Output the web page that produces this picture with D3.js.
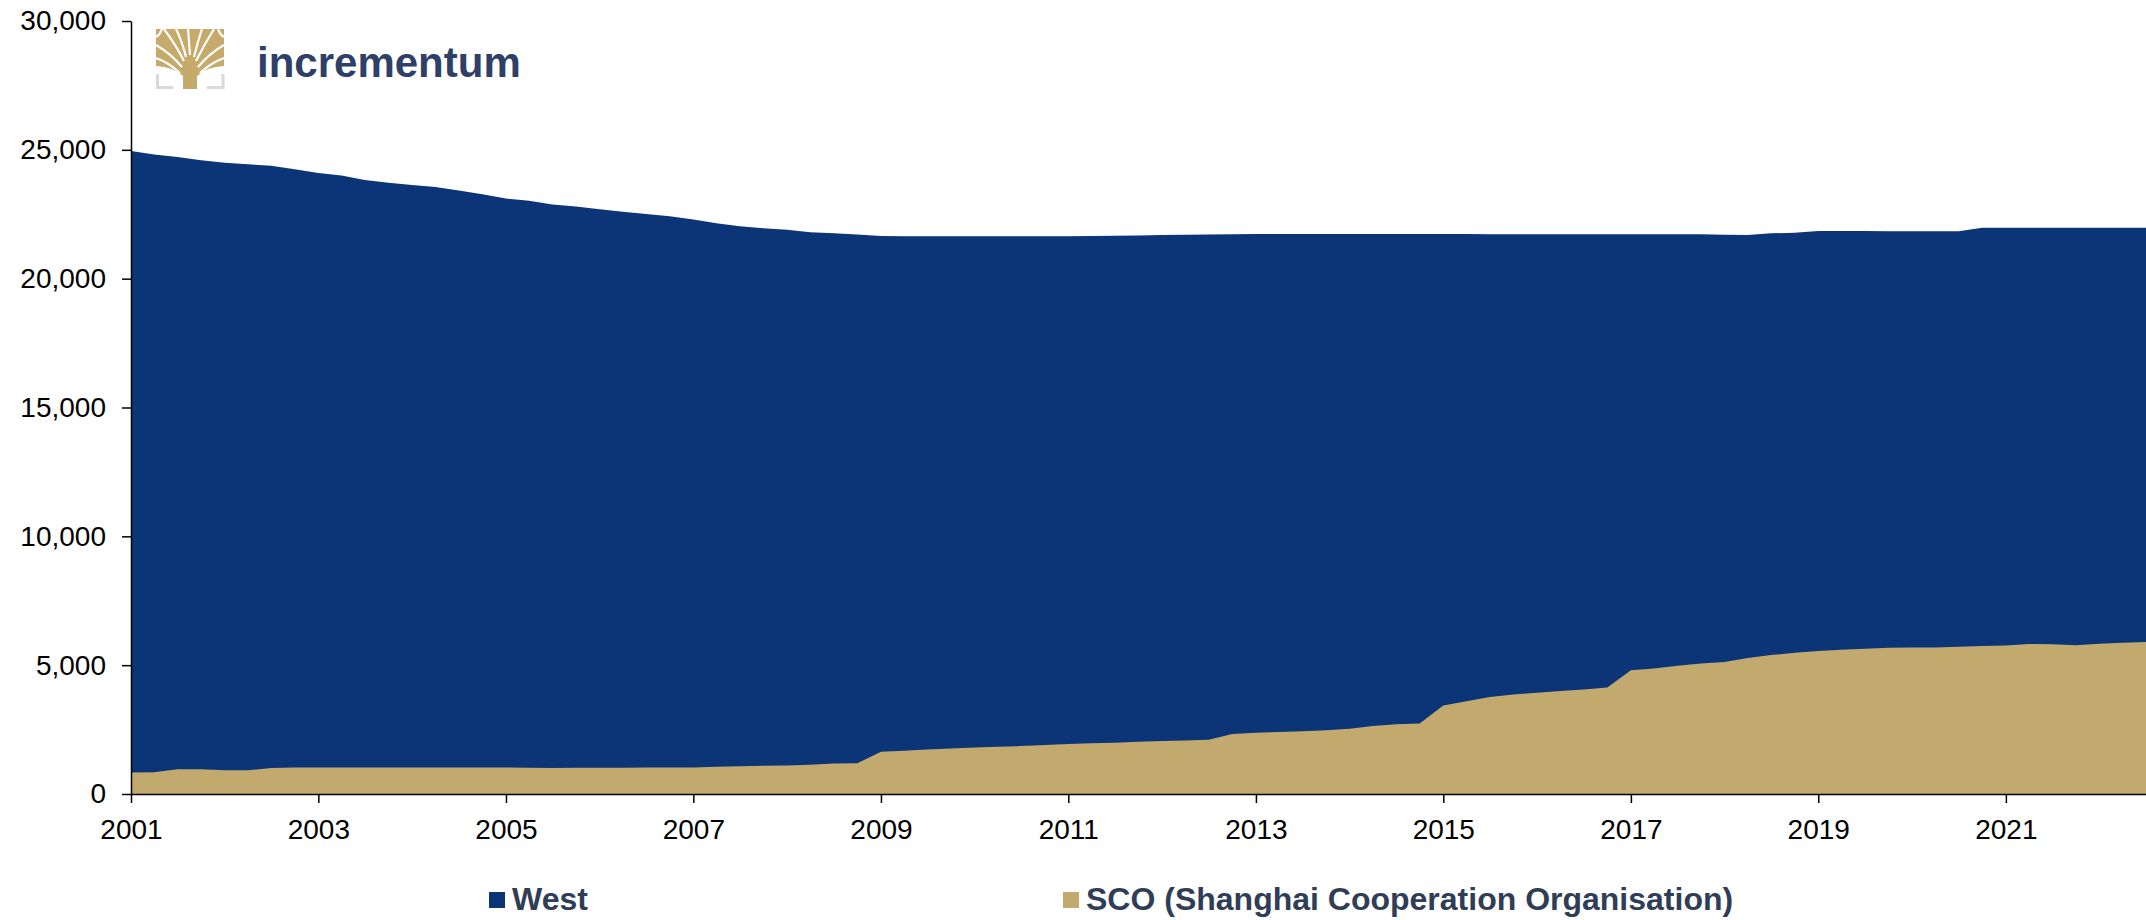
<!DOCTYPE html>
<html>
<head>
<meta charset="utf-8">
<script src="https://cdn.jsdelivr.net/npm/d3@7"></script>
<style>
  html, body { margin: 0; padding: 0; background: #fff; }
  svg { display: block; font-family: "Liberation Sans", Arial, sans-serif; }
  .axis text { font-size: 28px; fill: #000; }
  .axis path, .axis line { stroke: #000; stroke-width: 1.5; }
  .legend text { font-size: 32px; font-weight: bold; fill: #2f3e56; }
</style>
</head>
<body>
<svg id="chart" width="2146" height="920"></svg>
<script>
const quarters = [
  "2001-01","2001-04","2001-07","2001-10","2002-01","2002-04","2002-07","2002-10",
  "2003-01","2003-04","2003-07","2003-10","2004-01","2004-04","2004-07","2004-10",
  "2005-01","2005-04","2005-07","2005-10","2006-01","2006-04","2006-07","2006-10",
  "2007-01","2007-04","2007-07","2007-10","2008-01","2008-04","2008-07","2008-10",
  "2009-01","2009-04","2009-07","2009-10","2010-01","2010-04","2010-07","2010-10",
  "2011-01","2011-04","2011-07","2011-10","2012-01","2012-04","2012-07","2012-10",
  "2013-01","2013-04","2013-07","2013-10","2014-01","2014-04","2014-07","2014-10",
  "2015-01","2015-04","2015-07","2015-10","2016-01","2016-04","2016-07","2016-10",
  "2017-01","2017-04","2017-07","2017-10","2018-01","2018-04","2018-07","2018-10",
  "2019-01","2019-04","2019-07","2019-10","2020-01","2020-04","2020-07","2020-10",
  "2021-01","2021-04","2021-07","2021-10","2022-01","2022-04","2022-07"
];
const west = [
  24950,24820,24720,24600,24500,24440,24380,24250,
  24100,24000,23830,23720,23640,23560,23420,23280,
  23110,23020,22880,22800,22690,22600,22510,22420,
  22300,22150,22030,21960,21900,21800,21760,21710,
  21660,21650,21650,21650,21650,21650,21650,21650,
  21650,21660,21670,21680,21690,21700,21710,21720,
  21730,21730,21730,21730,21730,21730,21730,21730,
  21730,21730,21720,21720,21720,21720,21720,21720,
  21720,21720,21720,21720,21700,21690,21760,21780,
  21850,21850,21850,21840,21840,21840,21840,21980,
  21980,21980,21980,21980,21980,21980,21980
];
const sco = [
  830,840,960,960,920,920,1010,1030,
  1030,1030,1030,1030,1030,1030,1030,1030,
  1030,1020,1010,1020,1020,1020,1030,1030,
  1030,1060,1080,1100,1110,1140,1180,1190,
  1640,1680,1730,1770,1800,1830,1860,1900,
  1940,1970,1990,2030,2060,2080,2110,2330,
  2380,2410,2440,2470,2530,2640,2710,2740,
  3430,3600,3760,3860,3930,4000,4060,4130,
  4800,4870,4980,5060,5120,5280,5390,5480,
  5550,5600,5640,5680,5690,5690,5710,5740,
  5760,5820,5810,5770,5830,5870,5900
];
const yTicks = [0, 5000, 10000, 15000, 20000, 25000, 30000];
const xTickYears = [2001, 2003, 2005, 2007, 2009, 2011, 2013, 2015, 2017, 2019, 2021];
const seriesNames = ["West", "SCO (Shanghai Cooperation Organisation)"];
const COLORS = { West: "#0b3577", SCO: "#c2a96d" };

const parse = d3.timeParse("%Y-%m");
const rows = quarters.map((q, i) => ({ date: parse(q), west: west[i], sco: sco[i] }));

const svg = d3.select("#chart");
const M = { left: 131, right: 2146, top: 21, bottom: 794 };

const x = d3.scaleTime().domain(d3.extent(rows, (d) => d.date)).range([M.left, M.right]);
const y = d3.scaleLinear().domain([0, 30000]).range([M.bottom, M.top]);

// plain (non-stacked) areas, West behind SCO
const area = (key) => d3.area().x((d) => x(d.date)).y0(y(0)).y1((d) => y(d[key]));
svg.append("path").datum(rows).attr("fill", COLORS.West).attr("d", area("west"));
svg.append("path").datum(rows).attr("fill", COLORS.SCO).attr("d", area("sco"));

svg.append("g").attr("class", "axis").attr("transform", `translate(${M.left},0)`)
  .call(d3.axisLeft(y).tickValues(yTicks).tickFormat(d3.format(",")).tickSize(9).tickSizeOuter(0).tickPadding(16));

svg.append("g").attr("class", "axis").attr("transform", `translate(0,${M.bottom})`)
  .call(d3.axisBottom(x).tickValues(xTickYears.map((yr) => new Date(yr, 0, 1)))
    .tickFormat(d3.timeFormat("%Y")).tickSize(9).tickSizeOuter(0).tickPadding(16));

// legend
const lg = svg.append("g").attr("class", "legend");
[[489, COLORS.West, seriesNames[0]], [1063, COLORS.SCO, seriesNames[1]]].forEach(([lx, c, name]) => {
  lg.append("rect").attr("x", lx).attr("y", 892).attr("width", 16).attr("height", 16).attr("fill", c);
  lg.append("text").attr("x", lx + 23).attr("y", 910).text(name);
});

// incrementum logo
const logo = svg.append("g").attr("transform", "translate(156,29)");
logo.append("defs").append("clipPath").attr("id", "canopy")
  .append("rect").attr("width", 68).attr("height", 60);
const tree = logo.append("g").attr("clip-path", "url(#canopy)");
tree.append("path").attr("fill", "#c5aa6c")
  .attr("d", "M0,0 H68 V37 Q50,38 41,47 L41,60 H27 L27,47 Q18,38 0,37 Z");
const gaps = [
  "M24,44 Q12,33 0,29", "M26,38 Q14,24 0,16", "M28,32 Q20,16 8,0", "M30,28 Q26,12 20,0",
  "M34,26 Q33,12 32,0",
  "M38,28 Q42,12 46,0", "M40,32 Q48,16 58,0", "M42,38 Q54,24 68,16", "M44,44 Q56,33 68,29",
  "M6,0 Q4,6 0,8", "M62,0 Q64,6 68,8"
];
tree.selectAll("path.gap").data(gaps).join("path").attr("class", "gap")
  .attr("d", (d) => d).attr("fill", "none").attr("stroke", "#fff").attr("stroke-width", 2.2);
logo.append("path").attr("fill", "none").attr("stroke", "#d9d9d9").attr("stroke-width", 3)
  .attr("d", "M1.5,45 V58.5 H17 M67,45 V58.5 H51");
svg.append("text").attr("x", 257).attr("y", 77).attr("fill", "#2e4068")
  .attr("font-size", 42).attr("font-weight", "bold").text("incrementum");
</script>
</body>
</html>
